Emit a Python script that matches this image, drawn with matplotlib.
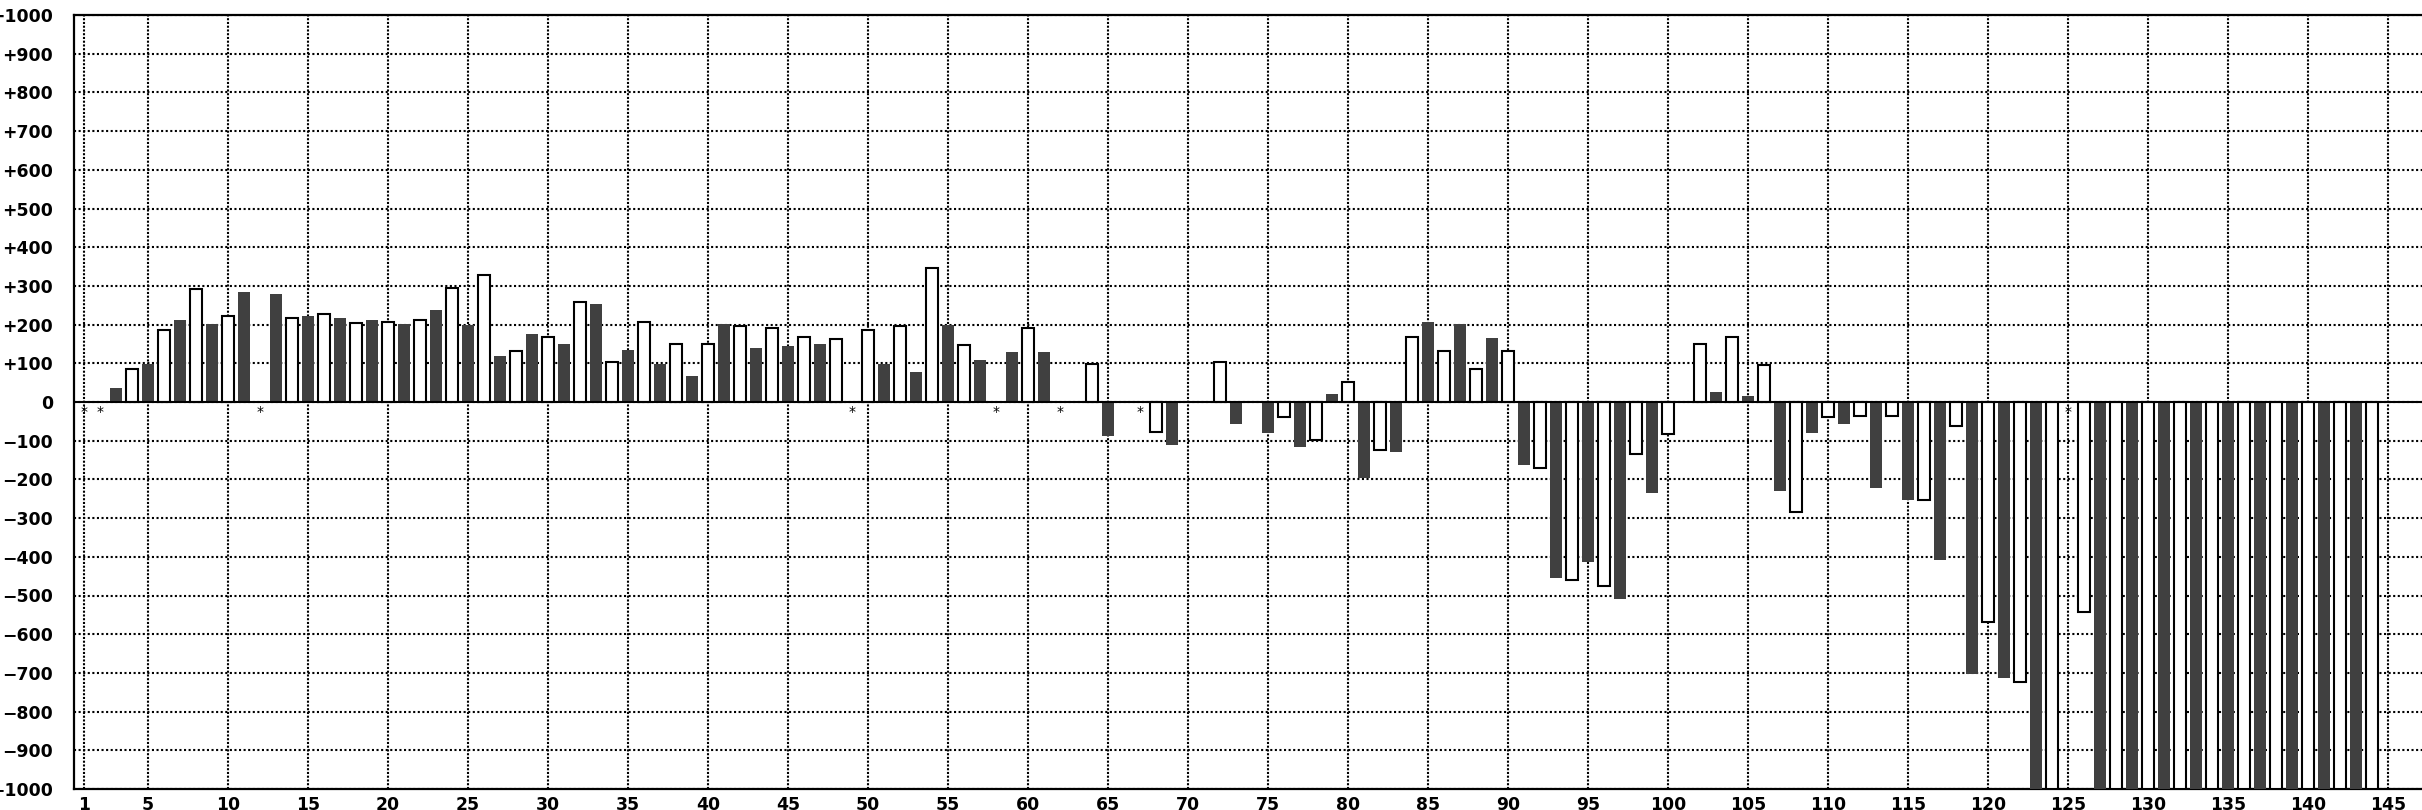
import numpy as np
import matplotlib
matplotlib.use("Agg")
import matplotlib.pyplot as plt

# values per position 1..144 (0 = no bar)
positions = np.arange(1, 145)
values = [
    0, 0, 37, 84, 97, 187, 212, 291, 202, 223,
    284, 0, 279, 218, 222, 228, 216, 203, 212, 208,
    202, 212, 238, 295, 198, 327, 119, 131, 175, 167,
    150, 259, 254, 104, 134, 208, 99, 151, 67, 151,
    202, 196, 139, 192, 144, 167, 150, 162, 0, 187,
    99, 196, 77, 347, 198, 146, 108, 0, 130, 192,
    130, 0, 0, 99, -87, 0, 0, -77, -112, 0,
    0, 104, -56, 0, -81, -40, -117, -99, 20, 52,
    -196, -124, -128, 167, 207, 131, 202, 84, 166, 131,
    -164, -171, -454, -461, -413, -475, -510, -135, -236, -83,
    0, 151, 25, 167, 15, 95, -231, -284, -81, -40,
    -56, -35, -222, -35, -252, -254, -407, -63, -702, -569,
    -712, -724, -1000, -1000, 0, -543, -1000, -1000, -1000, -1000,
    -1000, -1000, -1000, -1000, -1000, -1000, -1000, -1000, -1000, -1000,
    -1000, -1000, -1000, -1000,
]
# positions flagged with a star on the zero line
star_pos = [1, 2, 12, 49, 58, 62, 67, 125]

x_ticks = [1] + list(range(5, 150, 5))
y_ticks = list(range(-1000, 1001, 100))
y_labels = [("+%d" % v if v > 0 else ("\u2212%d" % -v if v < 0 else "0")) for v in y_ticks]

dark = "#404040"

fig = plt.figure(figsize=(24.22, 8.10), dpi=100)
ax = fig.add_axes([74 / 2422, 21 / 810, 1 - 74 / 2422, 774 / 810])

for p, v in zip(positions, values):
    if v == 0:
        continue
    if p % 2 == 1:
        ax.bar(p, v, width=0.75, color=dark, edgecolor="none", zorder=3)
    else:
        ax.bar(p, v, width=0.75, color="white", edgecolor="black", linewidth=1.5, zorder=3)

for p in star_pos:
    ax.annotate("*", (p, 0), xytext=(0, -7), textcoords="offset points",
                ha="center", va="center", fontsize=10, zorder=4)

ax.axhline(0, color="black", linewidth=1.5, zorder=4)

ax.set_xlim(0.375, 147.125)
ax.set_ylim(-1000, 1000)
ax.set_xticks(x_ticks)
ax.set_xticklabels([str(t) for t in x_ticks])
ax.set_yticks(y_ticks)
ax.set_yticklabels(y_labels)
ax.tick_params(axis="both", length=0, labelsize=12.4)
ax.tick_params(axis="y", pad=15)
ax.tick_params(axis="x", pad=5)
for lab in ax.get_xticklabels() + ax.get_yticklabels():
    lab.set_fontweight("bold")

ax.grid(True, axis="y", color="black", linestyle=(0, (1, 1.2)), linewidth=1.5, zorder=0)
ax.grid(True, axis="x", color="black", linestyle=(0, (1, 0.8)), linewidth=1.5, zorder=0)
ax.set_axisbelow(True)

for s in ["left", "top", "bottom"]:
    ax.spines[s].set_linewidth(1.6)
ax.spines["right"].set_visible(False)

fig.savefig("out.png", dpi=100)
